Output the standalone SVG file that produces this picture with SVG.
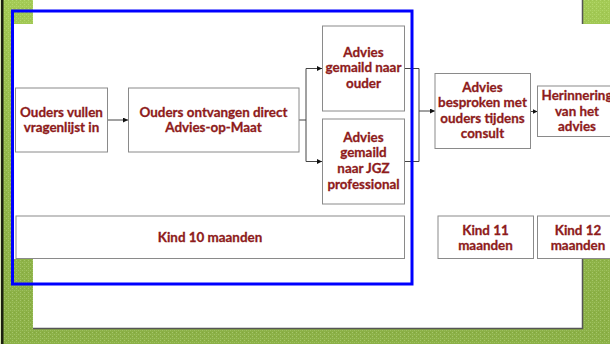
<svg xmlns="http://www.w3.org/2000/svg" width="610" height="344" viewBox="0 0 610 344">
  <defs>
    <pattern id="tex" width="4" height="4" patternUnits="userSpaceOnUse">
      <rect width="4" height="4" fill="#92B84B"/>
      <rect x="0" y="0" width="1" height="1" fill="#B4D47A"/>
      <rect x="2" y="2" width="1" height="1" fill="#ADD070"/>
      <rect x="2" y="0" width="1" height="1" fill="#88AD43"/>
      <rect x="0" y="2" width="1" height="1" fill="#A2C661"/>
    </pattern>
    <linearGradient id="shade" x1="0" y1="0" x2="0" y2="1">
      <stop offset="0" stop-color="#B8E060" stop-opacity="0.45"/>
      <stop offset="1" stop-color="#6E8F30" stop-opacity="0.2"/>
    </linearGradient>
    <marker id="arr" viewBox="0 0 6 6" refX="6" refY="3" markerWidth="5" markerHeight="5" orient="auto" markerUnits="userSpaceOnUse">
      <path d="M0,0 L6,3 L0,6 z" fill="#111"/>
    </marker>
    <style>
      .box { fill: #fff; stroke: #8a8a8a; stroke-width: 1; }
      .t { font-family: Lato, "Liberation Sans", sans-serif; font-weight: bold; font-size: 13.4px; fill: #8E1B1B; stroke: #8E1B1B; stroke-width: 0.3; text-anchor: middle; }
      .c { fill: none; stroke: #444; stroke-width: 1; }
    </style>
  </defs>

  <!-- background -->
  <rect x="0" y="0" width="610" height="344" fill="url(#tex)"/>
  <rect x="0" y="0" width="610" height="344" fill="url(#shade)"/>
  <rect x="0" y="0" width="1" height="344" fill="#d9e6b8"/>
  <rect x="1" y="0" width="2.5" height="344" fill="#1c2010"/>
  <rect x="33" y="0" width="549" height="328" fill="#fff"/>
  <path d="M582.5,0 V328.5 H33" fill="none" stroke="#555" stroke-width="1.5"/>
  <rect x="12" y="24" width="598" height="235" fill="#fff"/>

  <g id="connectors">
    <path class="c" d="M107.5,120 H128" marker-end="url(#arr)"/>
    <path class="c" d="M299,120 H306 M306,68.5 V161.5" />
    <path class="c" d="M306,68.5 H322" marker-end="url(#arr)"/>
    <path class="c" d="M306,161.5 H322" marker-end="url(#arr)"/>
    <path class="c" d="M404,68.5 H419 V161.5 H404"/>
    <path class="c" d="M419,111 H435" marker-end="url(#arr)"/>
    <path class="c" d="M530.5,111.5 H537.5" marker-end="url(#arr)"/>
  </g>

  <g id="n1">
    <rect class="box" x="15.5" y="88" width="92" height="64"/>
    <text class="t" x="61.5" y="116.5">Ouders vullen</text>
    <text class="t" x="61.5" y="131.5">vragenlijst in</text>
  </g>
  <g id="n2">
    <rect class="box" x="128.5" y="88" width="170.5" height="64"/>
    <text class="t" x="213.5" y="116.5">Ouders ontvangen direct</text>
    <text class="t" x="213.5" y="131.5">Advies-op-Maat</text>
  </g>
  <g id="n3">
    <rect class="box" x="322.5" y="26" width="82" height="85"/>
    <text class="t" x="363.5" y="56.5">Advies</text>
    <text class="t" x="363.5" y="72">gemaild naar</text>
    <text class="t" x="363.5" y="87.5">ouder</text>
  </g>
  <g id="n4">
    <rect class="box" x="322.5" y="119" width="82" height="85"/>
    <text class="t" x="363.5" y="141.5">Advies</text>
    <text class="t" x="363.5" y="157">gemaild</text>
    <text class="t" x="363.5" y="173">naar JGZ</text>
    <text class="t" x="363.5" y="188.5">professional</text>
  </g>
  <g id="n5">
    <rect class="box" x="435" y="73.5" width="95.5" height="75"/>
    <text class="t" x="482.5" y="91.5">Advies</text>
    <text class="t" x="482.5" y="107">besproken met</text>
    <text class="t" x="482.5" y="122.5">ouders tijdens</text>
    <text class="t" x="482.5" y="138">consult</text>
  </g>
  <g id="n6">
    <rect class="box" x="537.5" y="86" width="82" height="50.5"/>
    <text class="t" x="577" y="99.5">Herinnering</text>
    <text class="t" x="577" y="115.5">van het</text>
    <text class="t" x="577" y="130.5">advies</text>
  </g>
  <g id="n7">
    <rect class="box" x="16" y="216" width="388.5" height="42.5"/>
    <text class="t" x="210" y="241.5">Kind 10 maanden</text>
  </g>
  <g id="n8">
    <rect class="box" x="438" y="216" width="95.5" height="42.5"/>
    <text class="t" x="485.5" y="234.5">Kind 11</text>
    <text class="t" x="485.5" y="249.5">maanden</text>
  </g>
  <g id="n9">
    <rect class="box" x="537.5" y="216" width="82" height="42.5"/>
    <text class="t" x="578" y="234.5">Kind 12</text>
    <text class="t" x="578" y="249.5">maanden</text>
  </g>

  <rect id="selection" x="12.5" y="11" width="399.5" height="273" fill="none" stroke="#0000FF" stroke-width="3"/>
</svg>
